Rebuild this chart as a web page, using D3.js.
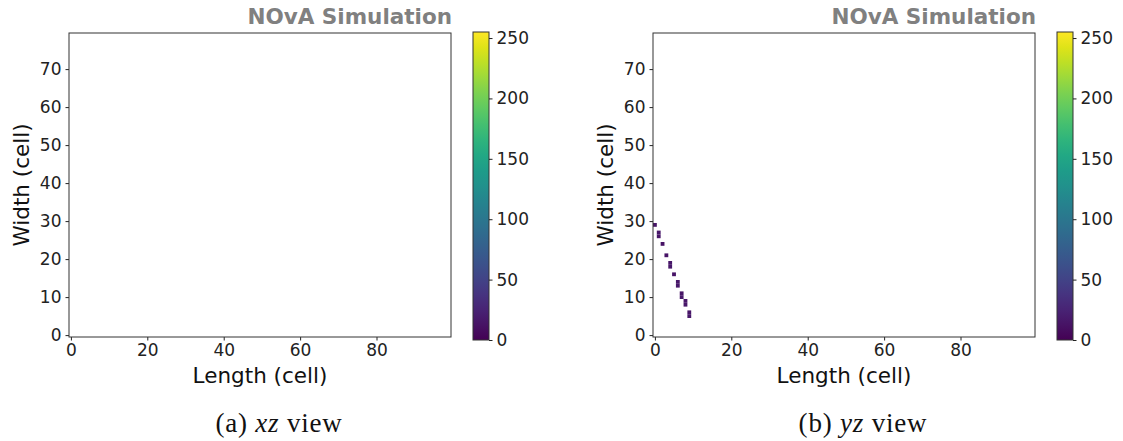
<!DOCTYPE html>
<html>
<head>
<meta charset="utf-8">
<script src="https://cdn.jsdelivr.net/npm/d3@7"></script>
<style>
  body { margin: 0; background: #fff; }
  svg { display: block; }
</style>
</head>
<body>
<svg id="chart" width="1123" height="441"></svg>
<script>
// hit cells for each view (column = length cell, row = width cell, value = adc)
var xzCol = [], xzRow = [], xzVal = []
var yzCol = [0, 1, 1, 2, 3, 4, 4, 5, 6, 6, 7, 7, 8, 8, 9, 9]
var yzRow = [29, 27, 26, 24, 21, 19, 18, 16, 14, 13, 11, 10, 9, 8, 6, 5]
var yzVal = [14, 16, 14, 12, 13, 15, 16, 13, 15, 16, 14, 16, 14, 15, 14, 16]

var xTicks = [0, 20, 40, 60, 80]
var yTicks = [0, 10, 20, 30, 40, 50, 60, 70]
var cbTicks = [0, 50, 100, 150, 200, 250]
var titles = ["NOvA Simulation", "NOvA Simulation"]
var captions = [["(a) ", "xz", " view"], ["(b) ", "yz", " view"]]

var svg = d3.select("#chart")

var plotW = 382, plotH = 304
var x = d3.scaleLinear().domain([-0.5, 99.5]).range([0, plotW])
var y = d3.scaleLinear().domain([-0.5, 79.5]).range([plotH, 0])
var cb = d3.scaleLinear().domain([0, 255]).range([308, 0])

// gradient for colorbar
var grad = svg.append("defs").append("linearGradient")
    .attr("id", "viridis").attr("x1", 0).attr("y1", 1).attr("x2", 0).attr("y2", 0)
d3.range(0, 1.001, 0.05).forEach(t => {
    grad.append("stop").attr("offset", t).attr("stop-color", d3.interpolateViridis(t))
})

var panels = [
    {dx: 69, cols: xzCol, rows: xzRow, vals: xzVal},
    {dx: 653, cols: yzCol, rows: yzRow, vals: yzVal}
]

panels.forEach((p, i) => {
    var g = svg.append("g").attr("transform", `translate(${p.dx},33)`)

    g.selectAll("rect.cell").data(p.cols).join("rect")
        .attr("class", "cell")
        .attr("x", (d) => x(d - 0.5))
        .attr("y", (d, j) => y(p.rows[j] + 0.5))
        .attr("width", x(0.5) - x(-0.5))
        .attr("height", y(-0.5) - y(0.5))
        .attr("fill", (d, j) => d3.interpolateViridis(p.vals[j] / 255))

    var xAxis = g.append("g").attr("transform", `translate(0,${plotH})`)
        .call(d3.axisBottom(x).tickValues(xTicks).tickSize(3.5).tickPadding(3))
    var yAxis = g.append("g")
        .call(d3.axisLeft(y).tickValues(yTicks).tickSize(3.5).tickPadding(4))
    ;[xAxis, yAxis].forEach(a => {
        a.select(".domain").remove()
        a.selectAll("text").attr("font-family", "DejaVu Sans").attr("font-size", 17).attr("fill", "#222")
        a.selectAll("line").attr("stroke", "#222")
    })

    g.append("rect").attr("width", plotW).attr("height", plotH)
        .attr("fill", "none").attr("stroke", "#333").attr("stroke-width", 1)

    g.append("text").attr("x", plotW / 2).attr("y", 350)
        .attr("text-anchor", "middle").attr("font-family", "DejaVu Sans").attr("font-size", 21.5)
        .attr("fill", "#111").text("Length (cell)")

    g.append("text").attr("transform", `translate(-40,${plotH / 2}) rotate(-90)`)
        .attr("text-anchor", "middle").attr("font-family", "DejaVu Sans").attr("font-size", 21.5)
        .attr("fill", "#111").text("Width (cell)")

    g.append("text").attr("x", plotW + 1).attr("y", -9.5)
        .attr("text-anchor", "end").attr("font-family", "DejaVu Sans").attr("font-weight", "bold")
        .attr("font-size", 21.5).attr("fill", "#808080").text(titles[i])

    // colorbar
    var c = svg.append("g").attr("transform", `translate(${p.dx + 404},32)`)
    c.append("rect").attr("width", 16).attr("height", 308).attr("fill", "url(#viridis)")
        .attr("stroke", "#333").attr("stroke-width", 1)
    var cAxis = c.append("g").attr("transform", "translate(16,0)")
        .call(d3.axisRight(cb).tickValues(cbTicks).tickSize(3.5).tickPadding(4))
    cAxis.select(".domain").remove()
    cAxis.selectAll("text").attr("font-family", "DejaVu Sans").attr("font-size", 17).attr("fill", "#222")
    cAxis.selectAll("line").attr("stroke", "#222")

    // caption
    var cap = svg.append("text").attr("x", p.dx + 210).attr("y", 432)
        .attr("text-anchor", "middle").attr("font-family", "Liberation Serif")
        .attr("font-size", 27).attr("fill", "#111").attr("letter-spacing", 0.8)
    cap.append("tspan").text(captions[i][0])
    cap.append("tspan").attr("font-style", "italic").text(captions[i][1])
    cap.append("tspan").text(captions[i][2])
})
</script>
</body>
</html>
